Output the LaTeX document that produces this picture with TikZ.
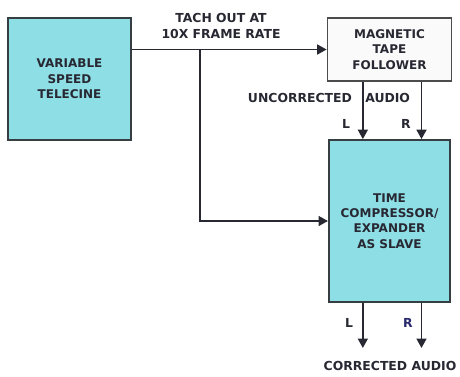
\documentclass[tikz,border=0pt]{standalone}
\usepackage{fontspec}
\setmainfont{DejaVu Sans}
\usetikzlibrary{arrows.meta,positioning}

\definecolor{boxcyan}{RGB}{142,222,230}
\definecolor{edgegray}{RGB}{55,62,66}
\definecolor{inkgray}{RGB}{40,40,50}
\definecolor{inkblue}{RGB}{40,40,110}

\begin{document}
\begin{tikzpicture}[x=0.75pt,y=-0.75pt,
    block/.style={draw=edgegray, line width=1.4pt, fill=boxcyan, text=inkgray,
        font=\bfseries\fontsize{9}{11.5}\selectfont, align=center, inner sep=0pt},
    flow/.style={draw=inkgray, line width=1pt, -{Triangle[length=7pt,width=7.5pt]}},
    tag/.style={text=inkgray, font=\bfseries\fontsize{9.3}{11.5}\selectfont, align=center, inner sep=0pt}]
    \useasboundingbox (0,0) rectangle (460,376);

    % Blocks
    \node[block, minimum width=92pt, minimum height=92pt] (telecine) at (69.5,79) {VARIABLE\\SPEED\\TELECINE};
    \node[block, fill=gray!4, draw=gray!60!black, minimum width=93pt, minimum height=47pt] (follower) at (389.5,49.5) {MAGNETIC\\TAPE\\FOLLOWER};
    \node[block, minimum width=91pt, minimum height=121.5pt] (compressor) at (389.5,221) {TIME\\COMPRESSOR/\\EXPANDER\\AS SLAVE};

    % Tach line and branch
    \coordinate (tap) at (200,49.5);
    \draw[flow] (follower.west -| telecine.east) -- (follower.west);
    \draw[flow] (tap) |- (compressor.west);

    % Audio channels
    \draw[flow] ([xshift=-20pt]follower.south) -- ([xshift=-20pt]compressor.north);
    \draw[flow] ([xshift=24pt]follower.south) -- ([xshift=24pt]compressor.north);
    \draw[flow] ([xshift=-20pt]compressor.south) -- ++(0,45);
    \draw[flow] ([xshift=24pt]compressor.south) -- ++(0,45);

    % Labels
    \node[tag] (tach) at (221,26) {TACH OUT AT\\10X FRAME RATE};
    \node[tag] (uncorrected) at (329,98) {UNCORRECTED\hspace{10pt}AUDIO};
    \node[tag] (inL) at (346,124) {L};
    \node[tag] (inR) at (406,124) {R};
    \node[tag] (outL) at (349,323) {L};
    \node[tag, text=inkblue] (outR) at (408,323) {R};
    \node[tag] (corrected) at (390,366) {CORRECTED AUDIO};
\end{tikzpicture}
\end{document}
